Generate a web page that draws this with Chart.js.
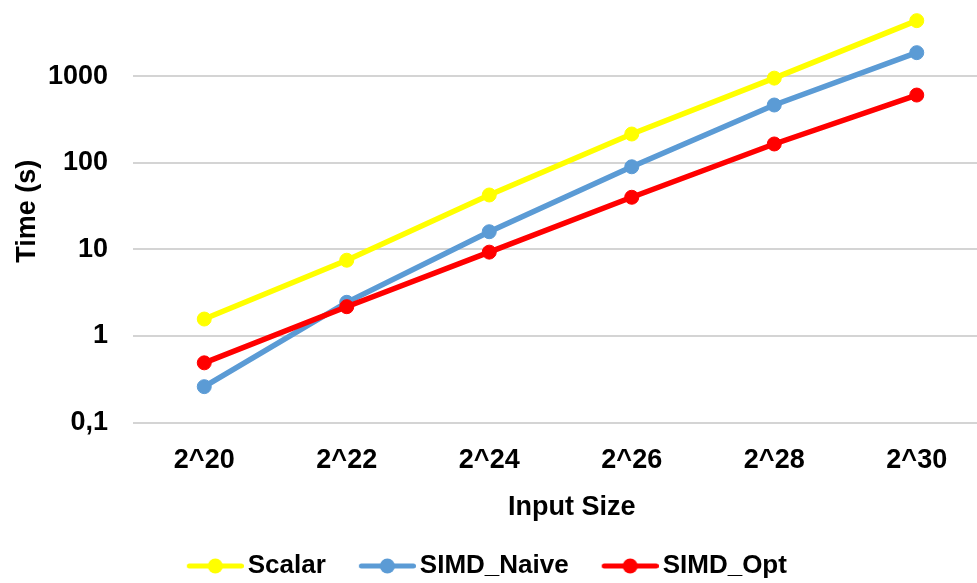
<!DOCTYPE html>
<html>
<head>
<meta charset="utf-8">
<script src="https://cdn.jsdelivr.net/npm/chart.js@4.4.1/dist/chart.umd.min.js"></script>
<style>
  html, body { margin: 0; padding: 0; background: #fff; width: 977px; height: 583px; overflow: hidden; }
  canvas { display: block; }
</style>
</head>
<body>
<canvas id="chart" width="988" height="589"></canvas>
<script>
// Run time (seconds) per input size, log scale
const categories = ['2^20', '2^22', '2^24', '2^26', '2^28', '2^30'];
const scalarTimes = [1.57, 7.5, 42.5, 215, 950, 4380];
const simdNaiveTimes = [0.26, 2.45, 16, 90, 465, 1870];
const simdOptTimes = [0.49, 2.18, 9.3, 40, 165, 606];
const yTickValues = [0.1, 1, 10, 100, 1000];
const yTickLabels = ['0,1', '1', '10', '100', '1000'];

const FONT = '"Liberation Sans", Arial, Helvetica, sans-serif';
Chart.defaults.font.family = FONT;
Chart.defaults.color = '#000';

const COLORS = { scalar: '#FFFF00', naive: '#5B9BD5', opt: '#FF0000' };

// Legend glyph: a short line with a dot in the middle
function legendGlyph(color) {
  const c = document.createElement('canvas');
  c.width = 95; c.height = 18;
  const g = c.getContext('2d');
  g.strokeStyle = color; g.lineWidth = 5; g.lineCap = 'round';
  g.beginPath(); g.moveTo(40.5, 9); g.lineTo(92.5, 9); g.stroke();
  g.fillStyle = color;
  g.beginPath(); g.arc(66.5, 9, 7.5, 0, Math.PI * 2); g.fill();
  return c;
}

function series(label, data, color, order) {
  return {
    label, data, order,
    borderColor: color, backgroundColor: color,
    borderWidth: 5.5, tension: 0,
    pointRadius: 7, pointHoverRadius: 7,
    pointBorderWidth: 1, pointBorderColor: color, pointBackgroundColor: color,
    glyph: legendGlyph(color)
  };
}

new Chart(document.getElementById('chart'), {
  type: 'line',
  data: {
    labels: categories,
    datasets: [
      series('Scalar', scalarTimes, COLORS.scalar, 1),
      series('SIMD_Naive', simdNaiveTimes, COLORS.naive, 2),
      series('SIMD_Opt', simdOptTimes, COLORS.opt, 0)
    ]
  },
  options: {
    responsive: false,
    devicePixelRatio: 1,
    animation: false,
    layout: { padding: 0, autoPadding: false },
    plugins: {
      tooltip: { enabled: false },
      legend: {
        position: 'bottom',
        labels: {
          usePointStyle: true,
          pointStyleWidth: 77,
          padding: 4,
          color: '#000',
          font: { size: 26, weight: 'bold' },
          sort: (a, b) => a.datasetIndex - b.datasetIndex,
          generateLabels(chart) {
            const items = Chart.defaults.plugins.legend.labels.generateLabels(chart);
            items.forEach((it) => {
              it.pointStyle = chart.data.datasets[it.datasetIndex].glyph;
              if (it.datasetIndex === chart.data.datasets.length - 1) {
                it.text += '\u00a0'.repeat(6);
              }
            });
            return items;
          }
        }
      }
    },
    scales: {
      x: {
        type: 'category',
        offset: true,
        grid: { display: false },
        border: { display: false },
        ticks: { padding: 14, font: { size: 27, weight: 'bold' }, color: '#000', maxRotation: 0 },
        title: {
          display: true, text: '\u00a0\u00a0\u00a0Input Size', color: '#000',
          font: { size: 27, weight: 'bold' },
          padding: { top: 0, bottom: 25 }
        },
        afterFit(scale) {
          scale.height = 126.4;
          scale.paddingLeft = 0; scale.paddingRight = 0;
        }
      },
      y: {
        type: 'logarithmic',
        min: 0.1,
        max: 7586,
        grid: { color: '#d4d4d4', lineWidth: 2, drawTicks: false },
        border: { display: false },
        afterBuildTicks(scale) {
          scale.ticks = yTickValues.map(v => ({ value: v }));
        },
        ticks: {
          padding: 25,
          font: { size: 27, weight: 'bold' },
          color: '#000',
          callback: (value, index) => yTickLabels[index]
        },
        title: {
          display: true, text: 'Time (s)', color: '#000',
          font: { size: 27, weight: 'bold' },
          padding: { top: 11, bottom: 0 }
        },
        afterFit(scale) {
          scale.width = 133;
          scale.paddingTop = 0; scale.paddingBottom = 0;
        }
      }
    }
  }
});
</script>
</body>
</html>
